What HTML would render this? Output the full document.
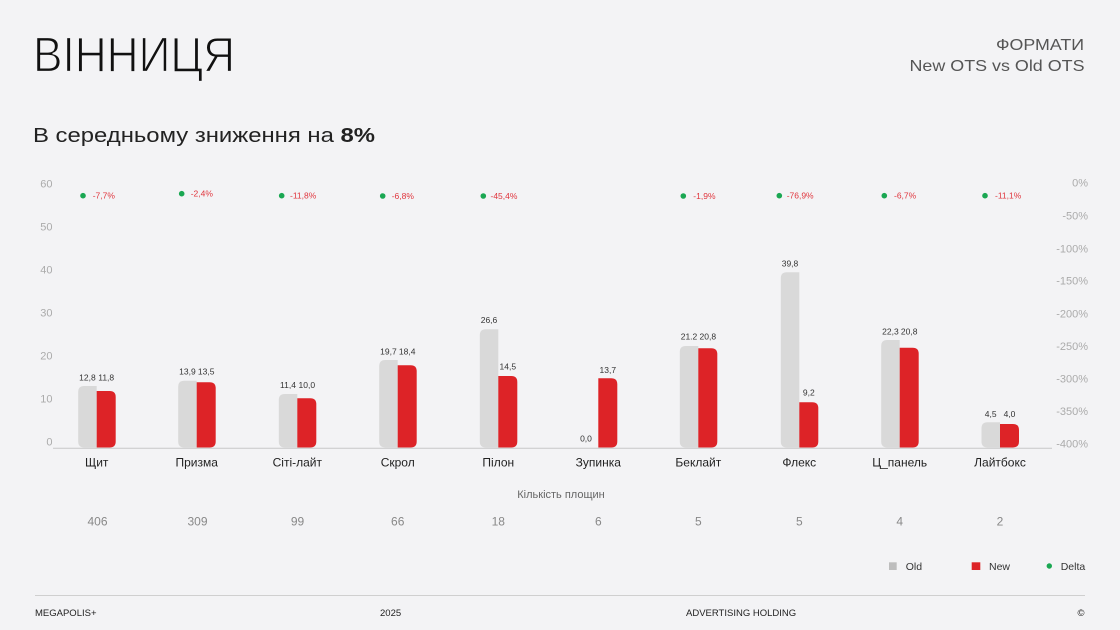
<!DOCTYPE html>
<html><head><meta charset="utf-8"><style>
html,body{margin:0;padding:0;background:#f3f3f5;}
svg{display:block;font-family:"Liberation Sans","Noto Sans CJK SC",sans-serif;}
</style></head><body>
<svg width="1120" height="630" viewBox="0 0 1120 630" xmlns="http://www.w3.org/2000/svg">
<rect x="0" y="0" width="1120" height="630" fill="#f3f3f5"/>
<!-- header -->
<text x="33" y="71.5" font-size="49" fill="#111" stroke="#f3f3f5" stroke-width="1.3" textLength="202" lengthAdjust="spacingAndGlyphs">ВІННИЦЯ</text>
<text x="33" y="142" font-size="20" fill="#222" textLength="342" lengthAdjust="spacingAndGlyphs">В середньому зниження на <tspan font-weight="bold">8%</tspan></text>
<text x="996" y="50" font-size="16" fill="#555" textLength="88" lengthAdjust="spacingAndGlyphs">ФОРМАТИ</text>
<text x="909.5" y="71" font-size="16" fill="#555" textLength="175" lengthAdjust="spacingAndGlyphs">New OTS vs Old OTS</text>

<!-- left axis -->
<g font-size="11" fill="#ababab" text-anchor="end">
<text x="52.5" y="187.3">60</text>
<text x="52.5" y="230.3">50</text>
<text x="52.5" y="273.3">40</text>
<text x="52.5" y="316.3">30</text>
<text x="52.5" y="359.3">20</text>
<text x="52.5" y="402.3">10</text>
<text x="52.5" y="445.3">0</text>
</g>
<!-- right axis -->
<g font-size="11" fill="#ababab" text-anchor="end">
<text x="1088" y="186.7">0%</text>
<text x="1088" y="219.7">-50%</text>
<text x="1088" y="252.3">-100%</text>
<text x="1088" y="284.5">-150%</text>
<text x="1088" y="317.3">-200%</text>
<text x="1088" y="350">-250%</text>
<text x="1088" y="382.3">-300%</text>
<text x="1088" y="415">-350%</text>
<text x="1088" y="447.7">-400%</text>
</g>

<!-- bars -->
<g fill="#d9d9d9">
<path d="M96.7,386 H84.2 Q78.2,386 78.2,392 V441.5 Q78.2,447.5 84.2,447.5 H96.7 Z"/>
<path d="M196.7,380.7 H184.2 Q178.2,380.7 178.2,386.7 V441.5 Q178.2,447.5 184.2,447.5 H196.7 Z"/>
<path d="M297.3,394 H284.8 Q278.8,394 278.8,400 V441.5 Q278.8,447.5 284.8,447.5 H297.3 Z"/>
<path d="M397.7,360 H385.2 Q379.2,360 379.2,366 V441.5 Q379.2,447.5 385.2,447.5 H397.7 Z"/>
<path d="M498.3,329.3 H485.8 Q479.8,329.3 479.8,335.3 V441.5 Q479.8,447.5 485.8,447.5 H498.3 Z"/>
<path d="M698.3,346 H685.8 Q679.8,346 679.8,352 V441.5 Q679.8,447.5 685.8,447.5 H698.3 Z"/>
<path d="M799.3,272.3 H786.8 Q780.8,272.3 780.8,278.3 V441.5 Q780.8,447.5 786.8,447.5 H799.3 Z"/>
<path d="M899.7,340 H887.2 Q881.2,340 881.2,346 V441.5 Q881.2,447.5 887.2,447.5 H899.7 Z"/>
<path d="M1000,422.3 H987.5 Q981.5,422.3 981.5,428.3 V441.5 Q981.5,447.5 987.5,447.5 H1000 Z"/>
</g>
<g fill="#dd2327">
<path d="M96.7,391 H109.7 Q115.7,391 115.7,397 V441.5 Q115.7,447.5 109.7,447.5 H96.7 Z"/>
<path d="M196.7,382.3 H209.7 Q215.7,382.3 215.7,388.3 V441.5 Q215.7,447.5 209.7,447.5 H196.7 Z"/>
<path d="M297.3,398.3 H310.3 Q316.3,398.3 316.3,404.3 V441.5 Q316.3,447.5 310.3,447.5 H297.3 Z"/>
<path d="M397.7,365.3 H410.7 Q416.7,365.3 416.7,371.3 V441.5 Q416.7,447.5 410.7,447.5 H397.7 Z"/>
<path d="M498.3,376 H511.3 Q517.3,376 517.3,382 V441.5 Q517.3,447.5 511.3,447.5 H498.3 Z"/>
<path d="M598.3,378.3 H611.3 Q617.3,378.3 617.3,384.3 V441.5 Q617.3,447.5 611.3,447.5 H598.3 Z"/>
<path d="M698.3,348.3 H711.3 Q717.3,348.3 717.3,354.3 V441.5 Q717.3,447.5 711.3,447.5 H698.3 Z"/>
<path d="M799.3,402.3 H812.3 Q818.3,402.3 818.3,408.3 V441.5 Q818.3,447.5 812.3,447.5 H799.3 Z"/>
<path d="M899.7,347.7 H912.7 Q918.7,347.7 918.7,353.7 V441.5 Q918.7,447.5 912.7,447.5 H899.7 Z"/>
<path d="M1000,424 H1013 Q1019,424 1019,430 V441.5 Q1019,447.5 1013,447.5 H1000 Z"/>
</g>
<line x1="53" y1="448.2" x2="1052" y2="448.2" stroke="#c8c8c8" stroke-width="1"/>

<!-- value labels -->
<g font-size="8.5" fill="#333" text-anchor="middle">
<text x="87.4" y="380.3">12,8</text><text x="106.2" y="380.3">11,8</text>
<text x="187.4" y="374.7">13,9</text><text x="206.2" y="374.7">13,5</text>
<text x="288" y="388">11,4</text><text x="306.8" y="388">10,0</text>
<text x="388.4" y="354.7">19,7</text><text x="407.2" y="354.7">18,4</text>
<text x="489" y="323">26,6</text><text x="507.8" y="369.7">14,5</text>
<text x="586" y="441.3">0,0</text><text x="607.8" y="373">13,7</text>
<text x="689" y="339.7">21.2</text><text x="707.8" y="339.7">20,8</text>
<text x="790" y="266.3">39,8</text><text x="808.8" y="395.7">9,2</text>
<text x="890.4" y="334.7">22,3</text><text x="909.2" y="334.7">20,8</text>
<text x="990.7" y="417">4,5</text><text x="1009.5" y="417">4,0</text>
</g>

<!-- delta markers -->
<g fill="#1aa752">
<circle cx="83" cy="195.7" r="2.8"/>
<circle cx="181.7" cy="193.7" r="2.8"/>
<circle cx="281.7" cy="195.7" r="2.8"/>
<circle cx="382.7" cy="196" r="2.8"/>
<circle cx="483.3" cy="196" r="2.8"/>
<circle cx="683.3" cy="196" r="2.8"/>
<circle cx="779.3" cy="195.7" r="2.8"/>
<circle cx="884.3" cy="195.7" r="2.8"/>
<circle cx="985" cy="195.7" r="2.8"/>
</g>
<g font-size="8.5" fill="#e0353d">
<text x="92.7" y="198.7">-7,7%</text>
<text x="190.7" y="196.7">-2,4%</text>
<text x="290" y="198.7">-11,8%</text>
<text x="391.7" y="199">-6,8%</text>
<text x="490.5" y="199">-45,4%</text>
<text x="693.3" y="199">-1,9%</text>
<text x="786.7" y="198.7">-76,9%</text>
<text x="894" y="198.7">-6,7%</text>
<text x="995" y="198.7">-11,1%</text>
</g>

<!-- categories -->
<g font-size="12" fill="#222" text-anchor="middle">
<text x="96.7" y="466.3">Щит</text>
<text x="196.7" y="466.3">Призма</text>
<text x="297.3" y="466.3">Сіті-лайт</text>
<text x="397.7" y="466.3">Скрол</text>
<text x="498.3" y="466.3">Пілон</text>
<text x="598.3" y="466.3">Зупинка</text>
<text x="698.3" y="466.3">Беклайт</text>
<text x="799.3" y="466.3">Флекс</text>
<text x="899.7" y="466.3">Ц_панель</text>
<text x="1000" y="466.3">Лайтбокс</text>
</g>
<text x="561" y="498" font-size="11" fill="#666" text-anchor="middle">Кількість площин</text>
<g font-size="12" fill="#888" text-anchor="middle">
<text x="97.5" y="525.3">406</text>
<text x="197.5" y="525.3">309</text>
<text x="297.5" y="525.3">99</text>
<text x="397.7" y="525.3">66</text>
<text x="498.3" y="525.3">18</text>
<text x="598.3" y="525.3">6</text>
<text x="698.3" y="525.3">5</text>
<text x="799.3" y="525.3">5</text>
<text x="899.7" y="525.3">4</text>
<text x="1000" y="525.3">2</text>
</g>

<!-- legend -->
<rect x="889" y="562.3" width="7.7" height="7.7" fill="#bdbdbd"/>
<text x="905.7" y="569.8" font-size="10.5" fill="#333">Old</text>
<rect x="971.7" y="562.3" width="8.6" height="7.7" fill="#dd2327"/>
<text x="989" y="569.8" font-size="10.5" fill="#333">New</text>
<circle cx="1049.3" cy="566" r="2.7" fill="#1aa752"/>
<text x="1060.7" y="569.8" font-size="10.5" fill="#333">Delta</text>

<!-- footer -->
<line x1="35" y1="595.5" x2="1085" y2="595.5" stroke="#cfcfcf" stroke-width="1"/>
<g font-size="9.5" fill="#222">
<text x="35" y="616">MEGAPOLIS+</text>
<text x="380" y="616">2025</text>
<text x="686" y="616">ADVERTISING HOLDING</text>
<text x="1077.5" y="616">©</text>
</g>
</svg>
</body></html>
